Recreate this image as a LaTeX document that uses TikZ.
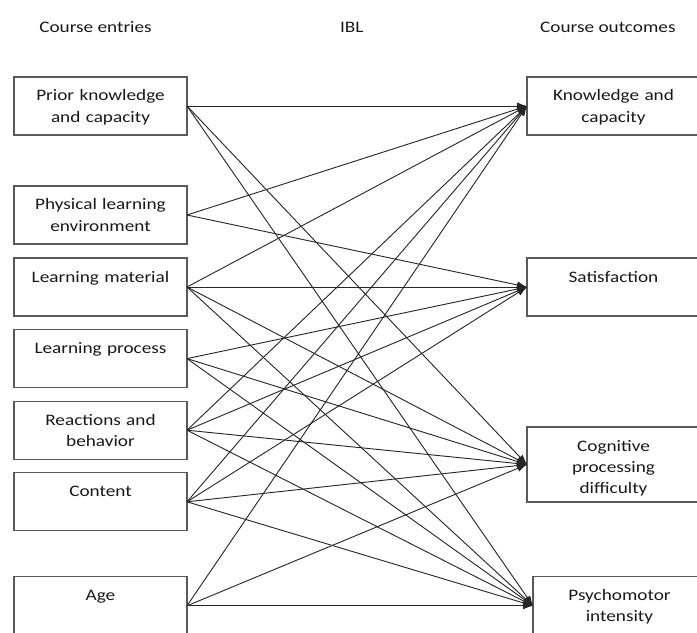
\documentclass[tikz,border=0pt]{standalone}
\usepackage{fontspec}
\setmainfont{Carlito}[FakeStretch=1.2]
\usetikzlibrary{arrows.meta, positioning, calc}

\begin{document}
\begin{tikzpicture}
        % Define node styles
        \tikzstyle{entry} = [draw=black!65, line width=0.8pt, rectangle, minimum width=4.325cm, text width=4.1cm, align=center, inner xsep=0pt, inner ysep=0pt, outer sep=0pt, text height=0.6cm, text depth=0.85cm, text=black!90, font=\fontsize{11.4}{15}\selectfont]
        \tikzstyle{header} = [inner sep=0pt, text depth=0pt, text=black!90, font=\fontsize{11.4}{15}\selectfont]
        \tikzstyle{flow} = [-{Latex[length=2.5mm, width=1.8mm]}, line width=0.65pt, black!85]

        \useasboundingbox (0,0) rectangle (17.425,-15.825);
        \clip (0,0) rectangle (17.425,-15.825);

        % Draw the nodes
        \node[entry, anchor=north west] (prior) at (0.35,-1.925) {Prior knowledge\\and capacity};
        \node[entry, below=1.275cm of prior] (phys) {Physical learning\\environment};
        \node[entry, below=0.35cm of phys] (material) {Learning material};
        \node[entry, below=0.34cm of material] (process) {Learning process};
        \node[entry, below=0.34cm of process] (react) {Reactions and\\behavior};
        \node[entry, below=0.34cm of react] (content) {Content};
        \node[entry, below=1.15cm of content] (age) {Age};

        \node[entry, right=8.5cm of prior] (know) {Knowledge and\\capacity};
        \node[entry, right=8.5cm of material] (satis) {Satisfaction};
        \node[entry, below=2.775cm of satis, text depth=1.275cm] (cog) {Cognitive\\processing\\difficulty};
        \node[entry, right=8.65cm of age] (psycho) {Psychomotor\\intensity};

        \node[header, above=1.1cm of prior, xshift=-0.125cm] (entries) {Course entries};
        \node[header, above=1.1cm of know, xshift=-0.14cm] (outcomes) {Course outcomes};
        \node[header, anchor=base] (ibl) at ($(entries.base)!0.5!(outcomes.base)$) {IBL};

        % Draw the links
        \draw[flow] (prior.east) -- (know.west);
        \draw[flow] (prior.east) -- (cog.west);
        \draw[flow] (prior.east) -- (psycho.west);

        \draw[flow] (phys.east) -- (know.west);
        \draw[flow] (phys.east) -- (satis.west);

        \draw[flow] (material.east) -- (know.west);
        \draw[flow] (material.east) -- (satis.west);
        \draw[flow] (material.east) -- (cog.west);
        \draw[flow] (material.east) -- (psycho.west);

        \draw[flow] (process.east) -- (satis.west);
        \draw[flow] (process.east) -- (cog.west);
        \draw[flow] (process.east) -- (psycho.west);

        \draw[flow] (react.east) -- (know.west);
        \draw[flow] (react.east) -- (satis.west);
        \draw[flow] (react.east) -- (cog.west);
        \draw[flow] (react.east) -- (psycho.west);

        \draw[flow] (content.east) -- (know.west);
        \draw[flow] (content.east) -- (satis.west);
        \draw[flow] (content.east) -- (cog.west);
        \draw[flow] (content.east) -- (psycho.west);

        \draw[flow] (age.east) -- (know.west);
        \draw[flow] (age.east) -- (cog.west);
        \draw[flow] (age.east) -- (psycho.west);
\end{tikzpicture}
\end{document}
